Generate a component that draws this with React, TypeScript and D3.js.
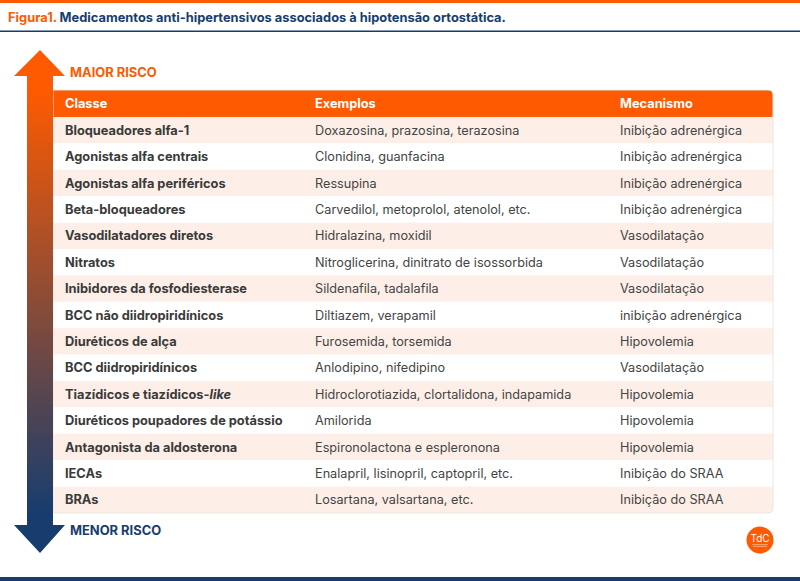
import React from "react";
import * as d3 from "d3";

const columns = ["Classe", "Exemplos", "Mecanismo"];
const classes = [
  "Bloqueadores alfa-1",
  "Agonistas alfa centrais",
  "Agonistas alfa periféricos",
  "Beta-bloqueadores",
  "Vasodilatadores diretos",
  "Nitratos",
  "Inibidores da fosfodiesterase",
  "BCC não diidropiridínicos",
  "Diuréticos de alça",
  "BCC diidropiridínicos",
  "Tiazídicos e tiazídicos-like",
  "Diuréticos poupadores de potássio",
  "Antagonista da aldosterona",
  "IECAs",
  "BRAs",
];
const examples = [
  "Doxazosina, prazosina, terazosina",
  "Clonidina, guanfacina",
  "Ressupina",
  "Carvedilol, metoprolol, atenolol, etc.",
  "Hidralazina, moxidil",
  "Nitroglicerina, dinitrato de isossorbida",
  "Sildenafila, tadalafila",
  "Diltiazem, verapamil",
  "Furosemida, torsemida",
  "Anlodipino, nifedipino",
  "Hidroclorotiazida, clortalidona, indapamida",
  "Amilorida",
  "Espironolactona e espleronona",
  "Enalapril, lisinopril, captopril, etc.",
  "Losartana, valsartana, etc.",
];
const mechanisms = [
  "Inibição adrenérgica",
  "Inibição adrenérgica",
  "Inibição adrenérgica",
  "Inibição adrenérgica",
  "Vasodilatação",
  "Vasodilatação",
  "Vasodilatação",
  "inibição adrenérgica",
  "Hipovolemia",
  "Vasodilatação",
  "Hipovolemia",
  "Hipovolemia",
  "Hipovolemia",
  "Inibição do SRAA",
  "Inibição do SRAA",
];

const ORANGE = "#fe5a01";
const NAVY = "#173d6e";
const FONT = "Inter, 'Noto Sans', sans-serif";

export default function App() {
  const W = 800;
  const H = 581;
  const tableX0 = 53;
  const tableX1 = 773;
  const headerTop = 90;
  const headerH = 27;
  const rowsTop = headerTop + headerH;
  const rowsBottom = 513;

  const y = d3
    .scaleBand<number>()
    .domain(d3.range(classes.length))
    .range([rowsTop, rowsBottom])
    .padding(0);
  const x = d3
    .scaleOrdinal<string, number>()
    .domain(columns)
    .range([65, 315, 620]);

  const rows = classes.map((c, i) => ({ c, e: examples[i], m: mechanisms[i] }));

  const r = 5;
  const tablePath = `M${tableX0},${headerTop} H${tableX1 - r} Q${tableX1},${headerTop} ${tableX1},${headerTop + r} V${rowsBottom - r} Q${tableX1},${rowsBottom} ${tableX1 - r},${rowsBottom} H${tableX0} Z`;

  const shaftL = 27, shaftR = 53, headL = 14, headR = 65;
  const cx = (shaftL + shaftR) / 2;
  const arrowPath = `M${cx},50 L${headR},76 L${shaftR},76 L${shaftR},525 L${headR},525 L${cx},553 L${headL},525 L${shaftL},525 L${shaftL},76 L${headL},76 Z`;

  return (
    <svg width={W} height={H} style={{ position: "absolute", left: 0, top: 0 }} fontFamily={FONT}>
      <defs>
        <linearGradient id="arrowGrad" x1="0" y1="50" x2="0" y2="553" gradientUnits="userSpaceOnUse">
          <stop offset="0" stopColor={ORANGE} />
          <stop offset="0.08" stopColor={ORANGE} />
          <stop offset="0.92" stopColor={NAVY} />
          <stop offset="1" stopColor={NAVY} />
        </linearGradient>
        <clipPath id="tableClip">
          <path d={tablePath} />
        </clipPath>
      </defs>
      <rect x={0} y={0} width={W} height={H} fill="#ffffff" />
      <rect x={0} y={0} width={W} height={3} fill={ORANGE} />
      <text x={8} y={22} fontSize={12.85} fontWeight={700}>
        <tspan fill={ORANGE}>Figura1.</tspan>
        <tspan fill={NAVY}> Medicamentos anti-hipertensivos associados à hipotensão ortostática.</tspan>
      </text>
      <rect x={0} y={30.5} width={W} height={1.5} fill={NAVY} />
      <rect x={0} y={577} width={W} height={4} fill={NAVY} />

      <g clipPath="url(#tableClip)">
        <rect x={tableX0} y={headerTop} width={tableX1 - tableX0} height={headerH} fill={ORANGE} />
        {rows.map((d, i) => (
          <rect
            key={i}
            x={tableX0}
            y={y(i)!}
            width={tableX1 - tableX0}
            height={y.bandwidth()}
            fill={i % 2 === 0 ? "#fdefe8" : "#ffffff"}
          />
        ))}
      </g>
      <path d={tablePath} fill="none" stroke="#ece6e2" strokeWidth={1} />

      {columns.map((c) => (
        <text key={c} x={x(c)} y={headerTop + headerH / 2 + 4.5} fontSize={12.8} fontWeight={700} fill="#ffffff">
          {c}
        </text>
      ))}
      {rows.map((d, i) => {
        const ty = y(i)! + y.bandwidth() / 2 + 4.5;
        const likeIdx = d.c.indexOf("-like");
        return (
          <g key={i}>
            <text x={x("Classe")} y={ty} fontSize={12.8} fontWeight={700} fill="#3a3a3a">
              {likeIdx >= 0 ? (
                <>
                  <tspan>{d.c.slice(0, likeIdx + 1)}</tspan>
                  <tspan fontStyle="italic">like</tspan>
                </>
              ) : (
                d.c
              )}
            </text>
            <text x={x("Exemplos")} y={ty} fontSize={12.7} fill="#444444">
              {d.e}
            </text>
            <text x={x("Mecanismo")} y={ty} fontSize={12.7} fill="#444444">
              {d.m}
            </text>
          </g>
        );
      })}

      <path d={arrowPath} fill="url(#arrowGrad)" />
      <text x={70} y={77} fontSize={12.9} fontWeight={700} fill={ORANGE}>
        MAIOR RISCO
      </text>
      <text x={70} y={535} fontSize={12.9} fontWeight={700} fill={NAVY}>
        MENOR RISCO
      </text>

      <g transform="translate(760,540)">
        <circle r={13.5} fill={ORANGE} />
        <text y={2} textAnchor="middle" fontSize={10} fill="#ffffff">
          TdC
        </text>
        <rect x={-8} y={4.5} width={16} height={0.6} fill="#ffe0cc" />
        <rect x={-7} y={6.2} width={14} height={0.5} fill="#ffe0cc" />
      </g>
    </svg>
  );
}
